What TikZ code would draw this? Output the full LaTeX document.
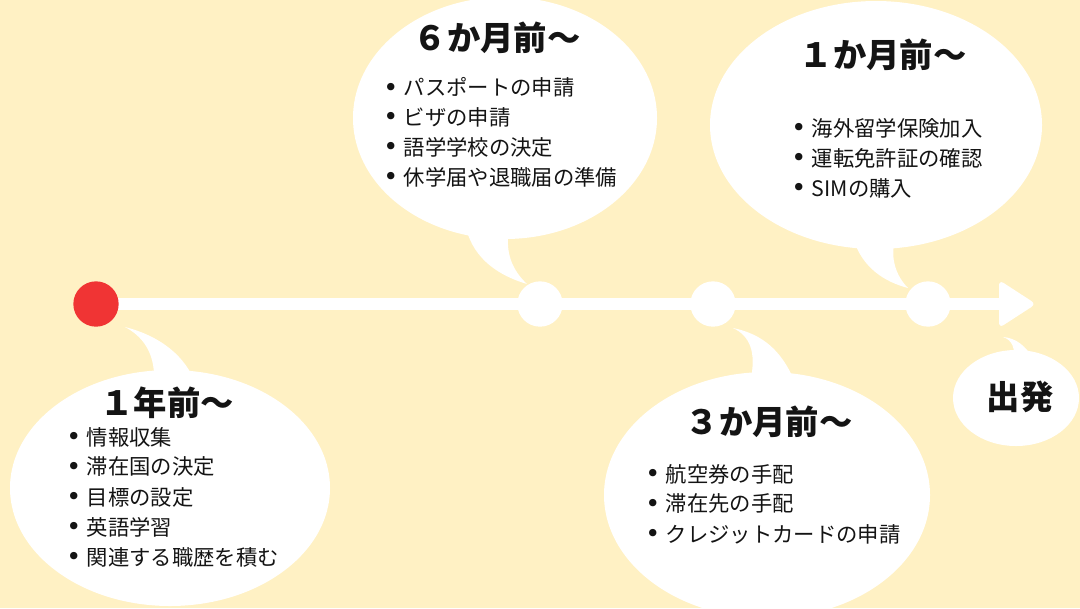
\documentclass[tikz,border=0pt]{standalone}
\usepackage{fontspec}
\newfontfamily\cjk{Noto Sans CJK JP}
\newfontfamily\bulfont{DejaVu Sans}
\definecolor{bg}{HTML}{FFF1C4}
\definecolor{reddot}{HTML}{F03434}
\definecolor{ink}{HTML}{141414}
\newcommand{\itm}[1]{\makebox[15.5pt][l]{\raisebox{-0.6pt}{\bulfont\fontsize{19pt}{19pt}\selectfont •}}#1}
\tikzset{
  bubble/.style={fill=white},
  dotnode/.style={circle, minimum size=34pt, inner sep=0pt},
  ttl/.style={font=\cjk\bfseries\fontsize{25pt}{30pt}\selectfont, text=ink, inner sep=0pt, anchor=center},
  itemline/.style={font=\cjk\fontsize{16pt}{20pt}\selectfont, text=ink, inner sep=0pt, anchor=west},
}
\begin{document}
\begin{tikzpicture}[x=0.75pt,y=-0.75pt]
\useasboundingbox (0,0) rectangle (1080,608);
\fill[bg] (0,0) rectangle (1080,608);
% bubbles
\begin{scope}
\clip (0,0) rectangle (1080,608);
\fill[bubble] (170,488) ellipse [x radius=160, y radius=118];
\fill[bubble] (154,380) .. controls (155,352) and (142,336) .. (125,327) .. controls (160,336) and (186,356) .. (196,385) -- cycle;
\fill[bubble] (505,118) ellipse [x radius=152, y radius=121];
\fill[bubble] (466,228) .. controls (474,260) and (500,276) .. (527,284) .. controls (512,270) and (505,252) .. (509,230) -- cycle;
\fill[bubble] (876,125) ellipse [x radius=166, y radius=124];
\fill[bubble] (853,238) .. controls (862,268) and (885,282) .. (908,288) .. controls (896,276) and (890,258) .. (895,240) -- cycle;
\fill[bubble] (767,495) ellipse [x radius=163, y radius=123];
\fill[bubble] (733,328) .. controls (750,336) and (756,352) .. (751,378) -- (794,380) .. controls (781,350) and (762,334) .. (733,328) -- cycle;
\fill[bubble] (1016,398) ellipse [x radius=63, y radius=48];
\fill[bubble] (1003,337) .. controls (1012,340) and (1016,348) .. (1013,362) -- (1034,360) .. controls (1026,346) and (1016,338) .. (1003,337) -- cycle;
\end{scope}
% timeline
\coordinate (headback) at (1002,304);
\draw[white, line width=9pt] (96,304) -- (headback);
\fill[white, rounded corners=4pt] (999,280) -- (1036,304) -- (999,328) -- cycle;
\node[dotnode, fill=reddot] (d0) at (96,304) {};
\node[dotnode, fill=white] (d1) at (540,304) {};
\node[dotnode, fill=white] (d2) at (713,304) {};
\node[dotnode, fill=white] (d3) at (928,304) {};
% titles
\node[ttl] (t1) at (167,403) {１年前〜};
\node[ttl] (t2) at (497,38) {６か月前〜};
\node[ttl] (t3) at (883,55) {１か月前〜};
\node[ttl] (t4) at (769,422) {３か月前〜};
\node[ttl] (t5) at (1020,397) {出発};
% lists
\node[itemline] (a1) at (66,437) {\itm{情報収集}};
\node[itemline] (a2) at (66,467) {\itm{滞在国の決定}};
\node[itemline] (a3) at (66,497) {\itm{目標の設定}};
\node[itemline] (a4) at (66,527) {\itm{英語学習}};
\node[itemline] (a5) at (66,557) {\itm{関連する職歴を積む}};
\node[itemline] (b1) at (383,87) {\itm{パスポートの申請}};
\node[itemline] (b2) at (383,117) {\itm{ビザの申請}};
\node[itemline] (b3) at (383,147) {\itm{語学学校の決定}};
\node[itemline] (b4) at (383,177) {\itm{休学届や退職届の準備}};
\node[itemline] (c1) at (791,128) {\itm{海外留学保険加入}};
\node[itemline] (c2) at (791,158) {\itm{運転免許証の確認}};
\node[itemline] (c3) at (791,188) {\itm{SIMの購入}};
\node[itemline] (e1) at (645,474) {\itm{航空券の手配}};
\node[itemline] (e2) at (645,504) {\itm{滞在先の手配}};
\node[itemline] (e3) at (645,534) {\itm{クレジットカードの申請}};
\end{tikzpicture}
\end{document}
